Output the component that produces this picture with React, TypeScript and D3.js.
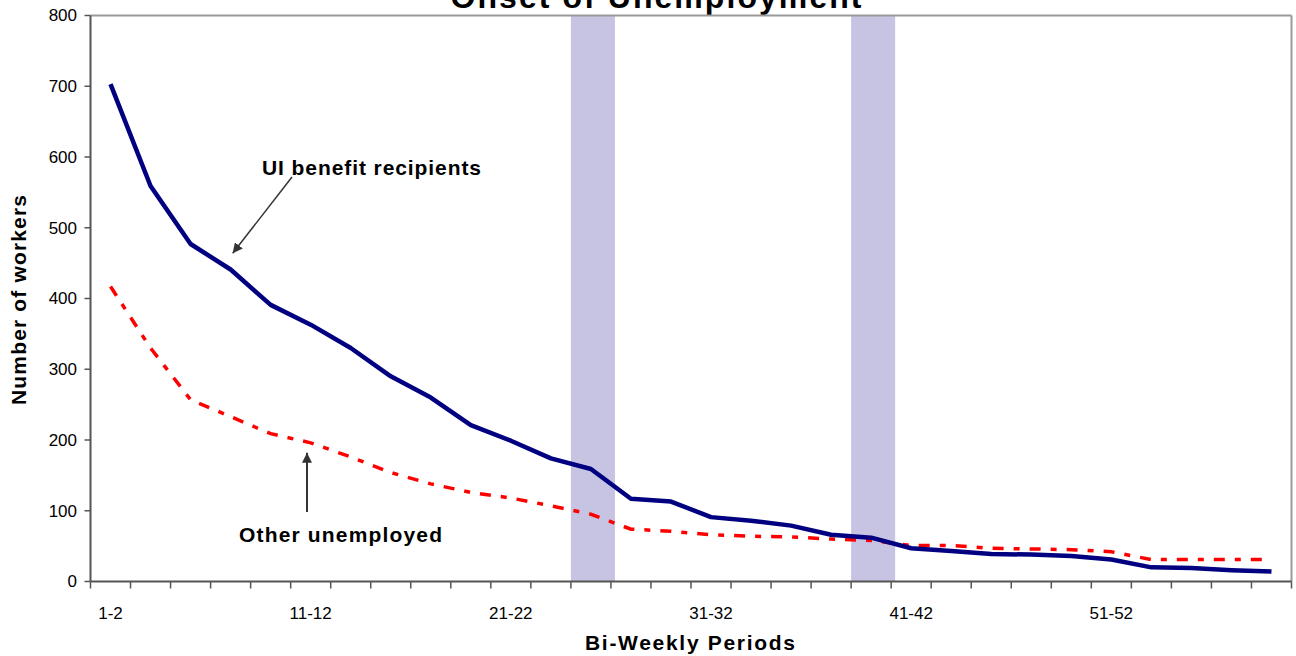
import React from "react";
import * as d3 from "d3";

const categories = [
  "1-2", "3-4", "5-6", "7-8", "9-10", "11-12", "13-14", "15-16", "17-18", "19-20",
  "21-22", "23-24", "25-26", "27-28", "29-30", "31-32", "33-34", "35-36", "37-38", "39-40",
  "41-42", "43-44", "45-46", "47-48", "49-50", "51-52", "53-54", "55-56", "57-58", "59-60",
];

const uiRecipients = [
  703, 559, 477, 441, 391, 363, 330, 290, 260, 221,
  199, 174, 159, 117, 113, 91, 86, 79, 66, 62,
  47, 43, 39, 38, 36, 31, 20, 19, 16, 14,
];

const otherUnemployed = [
  417, 330, 257, 233, 209, 196, 176, 154, 138, 126,
  118, 107, 95, 74, 71, 66, 64, 63, 60, 58,
  51, 51, 47, 46, 45, 42, 31, 31, 31, 31,
];

const xTickLabels = ["1-2", "11-12", "21-22", "31-32", "41-42", "51-52"];
const yTicks = [0, 100, 200, 300, 400, 500, 600, 700, 800];
const shadedPeriods = ["25-26", "39-40"];

const W = 1296;
const H = 656;
const M = { left: 90.5, right: 1291.5, top: 15.5, bottom: 581.5 };
const FONT = "'Liberation Sans', Arial, Helvetica, sans-serif";

export default function App() {
  const x = d3.scaleBand<string>().domain(categories).range([M.left, M.right]).padding(0);
  const y = d3.scaleLinear().domain([0, 800]).range([M.bottom, M.top]);
  const bw = x.bandwidth();
  const cx = (c: string) => (x(c) as number) + bw / 2;

  const line = d3
    .line<number>()
    .x((_, i) => cx(categories[i]))
    .y((d) => y(d));

  const tickBoundaries = categories.map((c) => x(c) as number).concat([M.right]);

  return (
    <svg
      width={W}
      height={H}
      style={{ position: "absolute", left: 0, top: 0, background: "#fff" }}
      fontFamily={FONT}
    >
      <defs>
        <marker id="ah" viewBox="0 0 10 10" refX="10" refY="5" markerWidth="10" markerHeight="10" markerUnits="userSpaceOnUse" orient="auto">
          <path d="M0,0 L10,5 L0,10 z" fill="#333" />
        </marker>
      </defs>
      <rect x={0} y={0} width={W} height={H} fill="#fff" />

      {/* title (cropped at top, as in the reference) */}
      <text x={656} y={8} textAnchor="middle" fontSize={32} fontWeight="bold" fill="#000" textLength={411} lengthAdjust="spacing">
        Onset of Unemployment
      </text>

      {/* shaded periods */}
      {shadedPeriods.map((p) => (
        <rect key={p} x={x(p) as number} y={M.top} width={bw * 1.1} height={M.bottom - M.top} fill="#C7C4E3" />
      ))}

      {/* plot border top & right */}
      <line x1={M.left} x2={M.right} y1={M.top} y2={M.top} stroke="#9a9a9a" strokeWidth={2} />
      <line x1={M.right} x2={M.right} y1={M.top} y2={M.bottom} stroke="#9a9a9a" strokeWidth={2} />

      {/* y axis */}
      <line x1={M.left} x2={M.left} y1={M.top} y2={M.bottom} stroke="#555" strokeWidth={2} />
      {yTicks.map((t) => (
        <g key={t}>
          <line x1={M.left - 6} x2={M.left} y1={y(t)} y2={y(t)} stroke="#555" strokeWidth={1.5} />
          <text x={77} y={y(t)} dy="0.35em" textAnchor="end" fontSize={17} fill="#000">
            {t}
          </text>
        </g>
      ))}

      {/* x axis */}
      <line x1={M.left} x2={M.right} y1={M.bottom} y2={M.bottom} stroke="#555" strokeWidth={2} />
      {tickBoundaries.map((b, i) => (
        <line key={i} x1={b} x2={b} y1={M.bottom} y2={M.bottom + 7} stroke="#555" strokeWidth={1.5} />
      ))}
      {xTickLabels.map((l) => (
        <text key={l} x={cx(l)} y={619} textAnchor="middle" fontSize={17} fill="#000">
          {l}
        </text>
      ))}

      {/* axis titles */}
      <text x={690} y={650} textAnchor="middle" fontSize={21} fontWeight="bold" fill="#000" textLength={210} lengthAdjust="spacing">
        Bi-Weekly Periods
      </text>
      <text
        transform={`translate(26,300) rotate(-90)`}
        textAnchor="middle"
        fontSize={21}
        fontWeight="bold"
        fill="#000"
        textLength={210}
        lengthAdjust="spacing"
      >
        Number of workers
      </text>

      {/* series */}
      <path d={line(otherUnemployed) || ""} fill="none" stroke="#FF0000" strokeWidth={3.5} strokeDasharray="11,10,6,10" />
      <path d={line(uiRecipients) || ""} fill="none" stroke="#000080" strokeWidth={4.5} strokeLinejoin="round" />

      {/* annotations */}
      <text x={262} y={175} fontSize={21} fontWeight="bold" fill="#000" textLength={219} lengthAdjust="spacing">
        UI benefit recipients
      </text>
      <line x1={292} y1={177} x2={232.7} y2={253.3} stroke="#333" strokeWidth={1.5} markerEnd="url(#ah)" />

      <text x={239} y={542} fontSize={21} fontWeight="bold" fill="#000" textLength={203} lengthAdjust="spacing">
        Other unemployed
      </text>
      <line x1={307} y1={512} x2={307} y2={452.7} stroke="#333" strokeWidth={2} markerEnd="url(#ah)" />
    </svg>
  );
}
